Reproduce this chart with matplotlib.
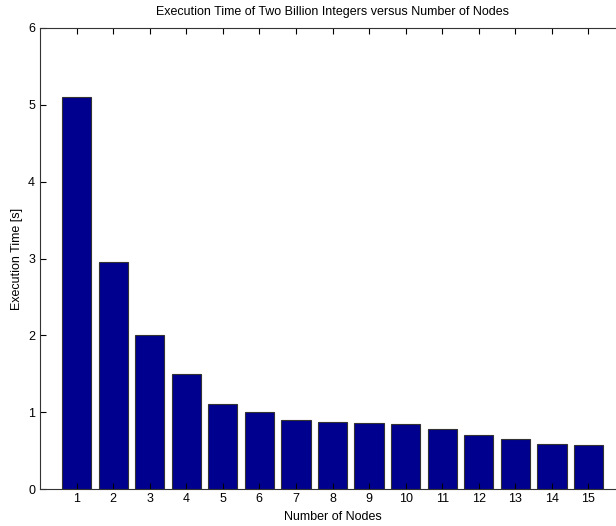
import matplotlib
matplotlib.use("Agg")
import matplotlib.pyplot as plt

nodes = list(range(1, 16))
exec_time = [5.10, 2.95, 2.00, 1.50, 1.10, 1.00, 0.90, 0.87, 0.86, 0.84,
             0.78, 0.70, 0.65, 0.59, 0.57]

plt.rcParams['font.family'] = ['Liberation Sans', 'DejaVu Sans']

fig = plt.figure(figsize=(6.16, 5.26), dpi=100)
# axes runs past the right edge, as in the reference
ax = fig.add_axes([40 / 616, 37 / 526, 585 / 616, 461 / 526])

ax.bar(nodes, exec_time, width=0.8, color="#00008f", edgecolor="#333333", linewidth=0.8)

ax.set_xlim(0, 16)
ax.set_ylim(0, 6)
ax.set_xticks(nodes)
ax.set_yticks(range(0, 7))
ax.tick_params(direction="in", top=True, right=True, labelsize=9, length=4, width=0.8)
ax.tick_params(axis="x", pad=3)
for s in ax.spines.values():
    s.set_linewidth(0.8)
    s.set_color("#333333")

ax.set_title("Execution Time of Two Billion Integers versus Number of Nodes", fontsize=9, pad=9)
ax.set_xlabel("Number of Nodes", fontsize=9, labelpad=4)
ax.set_ylabel("Execution Time [s]", fontsize=9, labelpad=4)

fig.savefig("out.png", dpi=100)
